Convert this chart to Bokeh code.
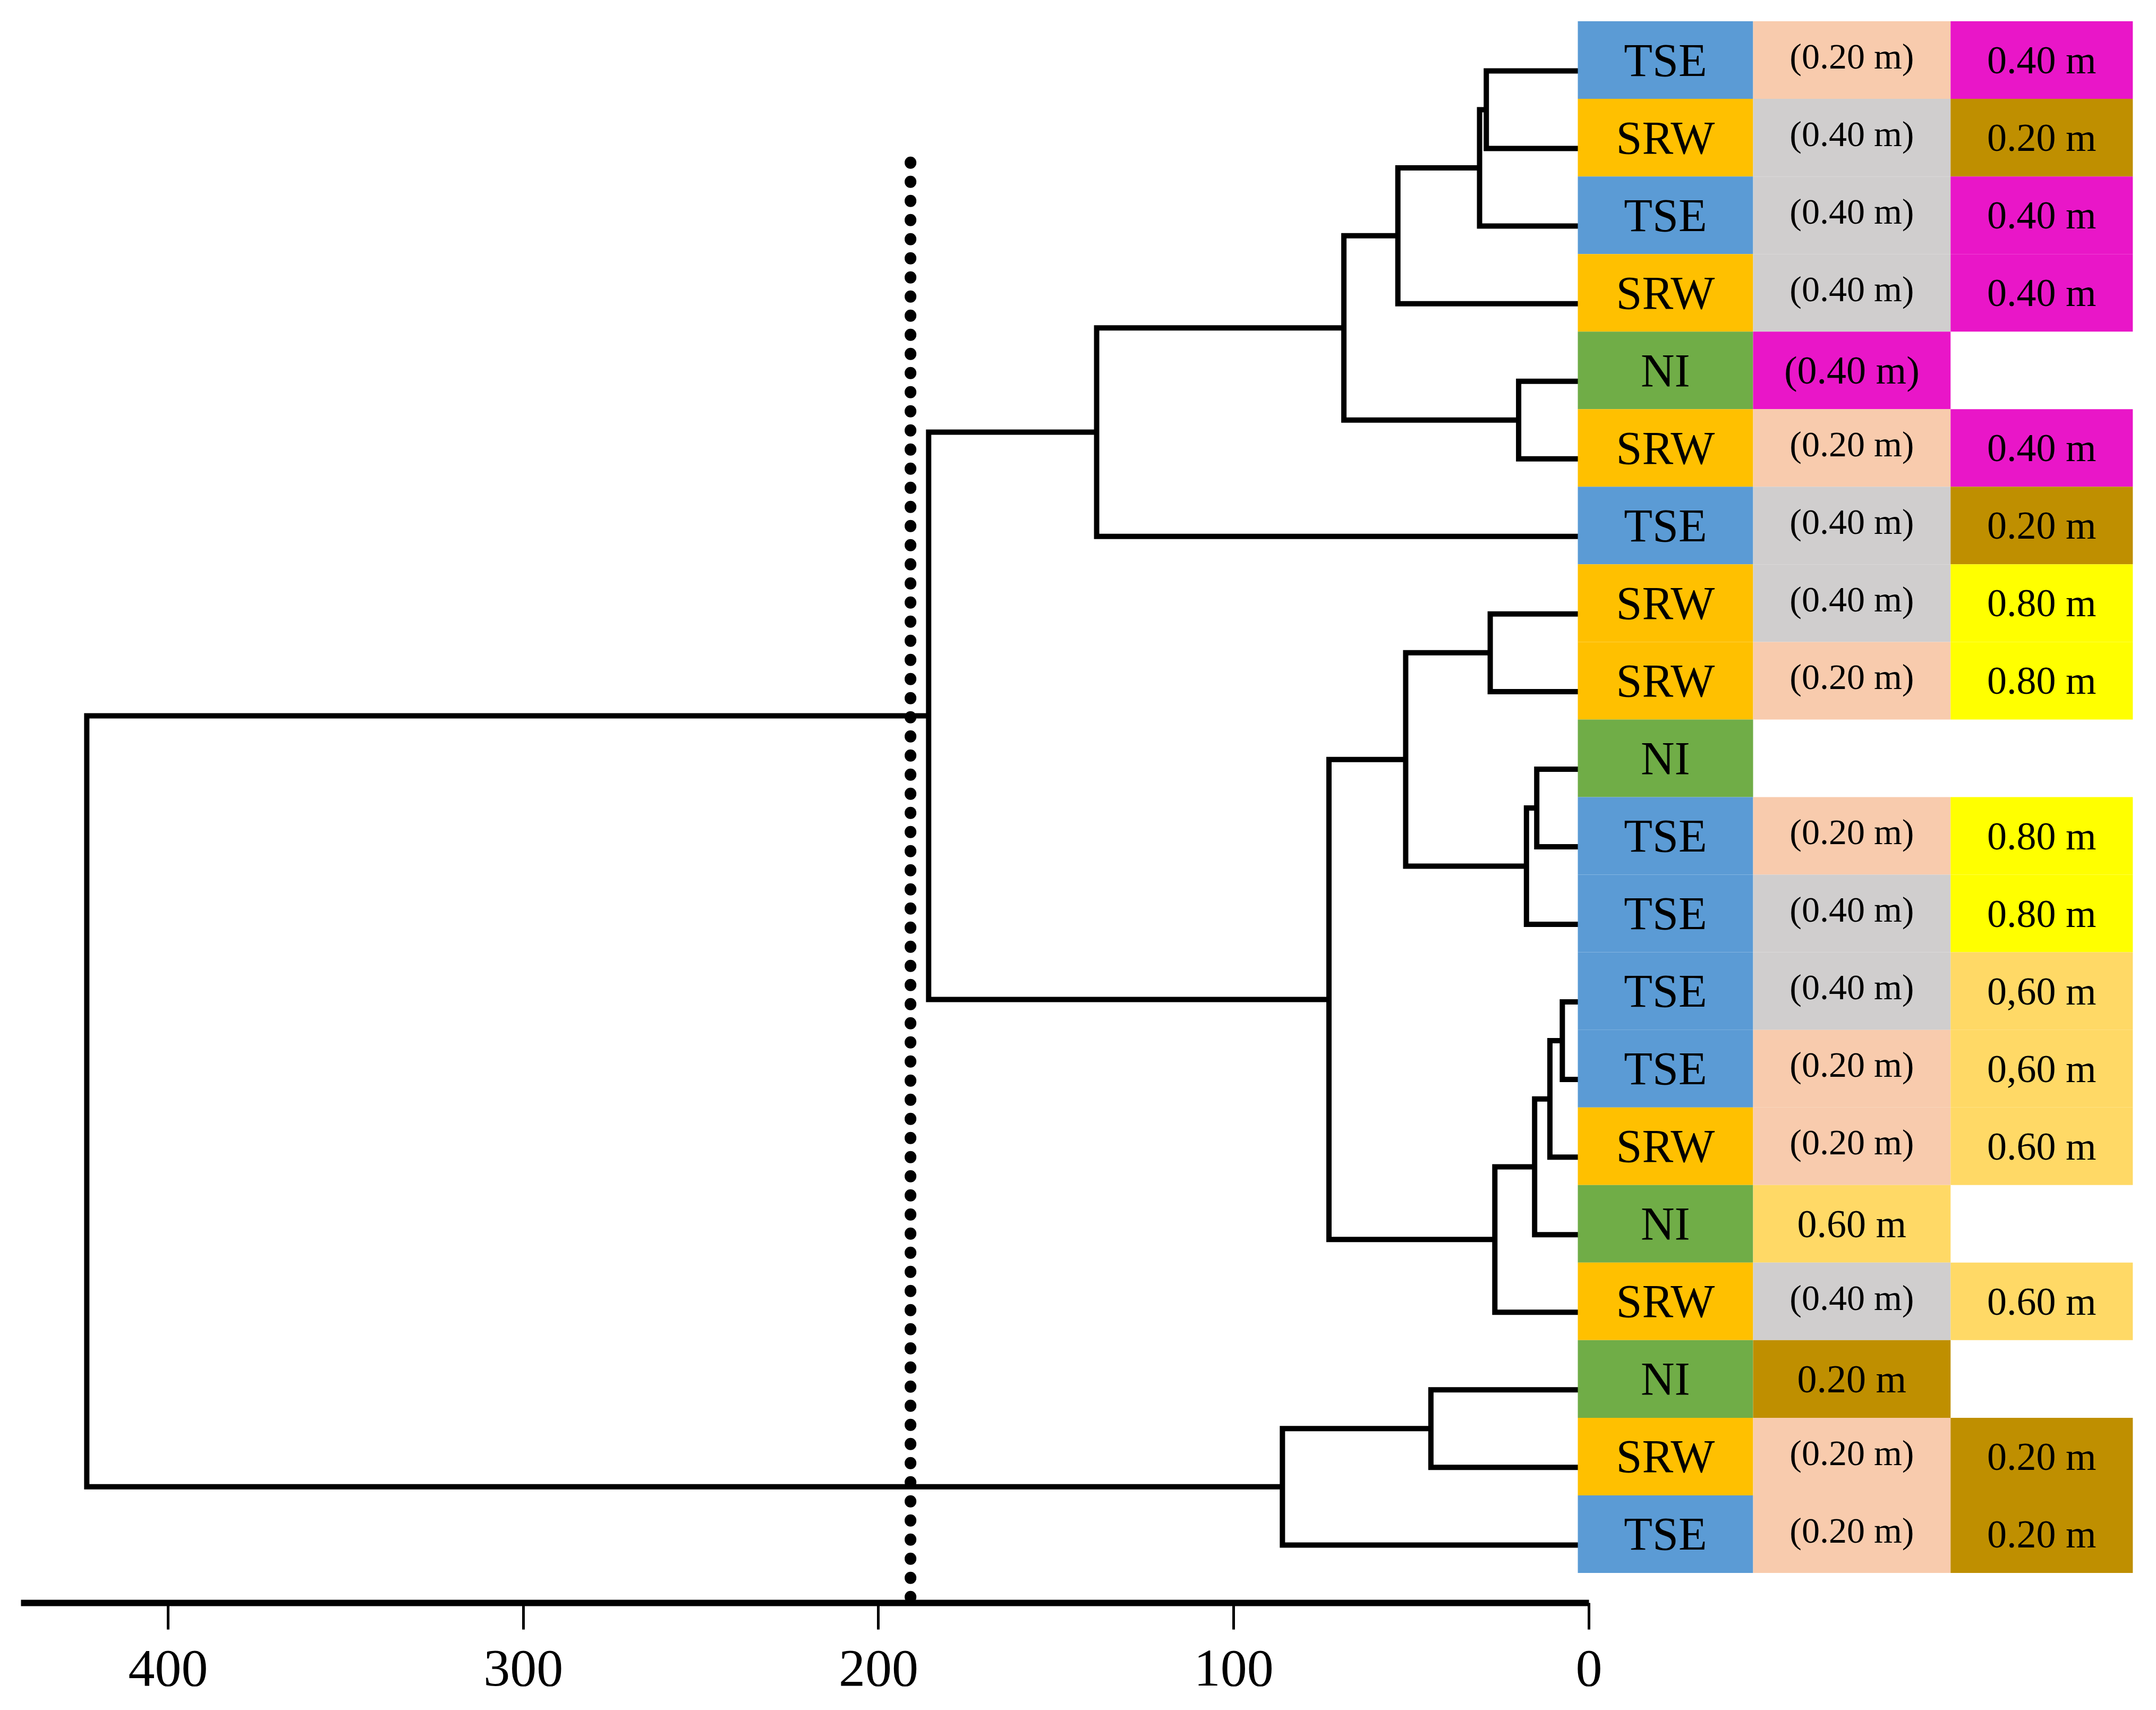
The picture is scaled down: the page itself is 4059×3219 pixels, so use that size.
from bokeh.plotting import figure
from bokeh.models import Range1d, FixedTicker
from bokeh.embed import file_html
from bokeh.resources import INLINE
from bokeh.core.properties import value

# ---------------- data ----------------
groups = ["TSE", "SRW", "TSE", "SRW", "NI", "SRW", "TSE", "SRW", "SRW", "NI",
          "TSE", "TSE", "TSE", "TSE", "SRW", "NI", "SRW", "NI", "SRW", "TSE"]
first_depth = ["(0.20 m)", "(0.40 m)", "(0.40 m)", "(0.40 m)", "(0.40 m)", "(0.20 m)",
               "(0.40 m)", "(0.40 m)", "(0.20 m)", "", "(0.20 m)", "(0.40 m)",
               "(0.40 m)", "(0.20 m)", "(0.20 m)", "0.60 m", "(0.40 m)", "0.20 m",
               "(0.20 m)", "(0.20 m)"]
second_depth = ["0.40 m", "0.20 m", "0.40 m", "0.40 m", "", "0.40 m", "0.20 m",
                "0.80 m", "0.80 m", "", "0.80 m", "0.80 m", "0,60 m", "0,60 m",
                "0.60 m", "", "0.60 m", "", "0.20 m", "0.20 m"]
# linkage: node ids 0..19 are leaves (top to bottom), merges create ids 20..38
merge_left = [0, 20, 21, 4, 22, 24, 7, 9, 27, 26, 12, 30, 31, 32, 29, 25, 17, 36, 35]
merge_right = [1, 2, 3, 5, 23, 6, 8, 10, 11, 28, 13, 14, 15, 16, 33, 34, 18, 19, 37]
merge_height = [28.9, 30.8, 53.8, 19.8, 69.0, 138.6, 27.8, 14.7, 17.6, 51.6,
                7.5, 11.0, 15.3, 26.5, 73.2, 185.9, 44.5, 86.3, 422.9]
cut_height = 191
x_ticks = [0, 100, 200, 300, 400]

# ---------------- styles ----------------
group_colors = {"TSE": "#5B9BD5", "SRW": "#FFC000", "NI": "#70AD47"}
paren_colors = {"0.20": "#F8CBAD", "0.40": "#D0CECE"}
depth_colors = {"0.20": "#BF8F00", "0.40": "#E916C8", "0.60": "#FFD966", "0.80": "#FFFF00"}
FONT = value("Liberation Serif")


def key(lbl):
    return lbl.strip("() m").replace(",", ".")


n = len(groups)
p = figure(width=4040, height=3219,
           x_range=Range1d(447.25, -156.86), y_range=Range1d(19.747, -0.9107),
           output_backend="svg", toolbar_location=None,
           min_border_left=0, min_border_right=0, min_border_top=0,
           min_border_bottom=202, y_axis_location=None)
p.xgrid.visible = False
p.ygrid.visible = False
p.outline_line_color = None
p.background_fill_color = "white"
p.border_fill_color = "white"

# ---------------- dendrogram ----------------
node_h = [0.0] * n
node_y = [float(i) for i in range(n)]
xs, ys = [], []
for l, r, h in zip(merge_left, merge_right, merge_height):
    xs.append([node_h[l], h, h, node_h[r]])
    ys.append([node_y[l], node_y[l], node_y[r], node_y[r]])
    node_h.append(h)
    node_y.append((node_y[l] + node_y[r]) / 2)
p.multi_line(xs=xs, ys=ys, line_color="black", line_width=10,
             line_join="miter", line_cap="butt")

# cut line (dotted)
p.line(x=[cut_height, cut_height], y=[1.18, 19.747], line_color="black",
       line_width=22, line_dash="1 35", line_cap="round")

# ---------------- label boxes ----------------
off = -0.14
col1 = (3.14, -46.2)
col2 = (-46.2, -101.8)
col3 = (-101.8, -153.1)

rows = list(range(n))
top = [i + off - 0.5 for i in rows]
bot = [i + off + 0.5 for i in rows]
ctr = [i + off for i in rows]

p.quad(left=col1[0], right=col1[1], top=top, bottom=bot,
       fill_color=[group_colors[g] for g in groups], line_color=None)
p.text(x=[(col1[0] + col1[1]) / 2] * n, y=ctr, text=groups, text_font=FONT,
       text_font_size="88px", text_align="center", text_baseline="middle",
       text_color="black")

c2 = [i for i in rows if first_depth[i]]
c2_col = []
for i in c2:
    if first_depth[i].startswith("(") and groups[i] != "NI":
        c2_col.append(paren_colors[key(first_depth[i])])
    else:
        c2_col.append(depth_colors[key(first_depth[i])])
p.quad(left=col2[0], right=col2[1], top=[top[i] for i in c2], bottom=[bot[i] for i in c2],
       fill_color=c2_col, line_color=None)
small = [i for i in c2 if first_depth[i].startswith("(") and groups[i] != "NI"]
big = [i for i in c2 if i not in small]
p.text(x=[(col2[0] + col2[1]) / 2] * len(small), y=[ctr[i] - 0.05 for i in small],
       text=[first_depth[i] for i in small], text_font=FONT, text_font_size="68px",
       text_align="center", text_baseline="middle", text_color="black")
p.text(x=[(col2[0] + col2[1]) / 2] * len(big), y=[ctr[i] for i in big],
       text=[first_depth[i] for i in big], text_font=FONT, text_font_size="74px",
       text_align="center", text_baseline="middle", text_color="black")

c3 = [i for i in rows if second_depth[i]]
p.quad(left=col3[0], right=col3[1], top=[top[i] for i in c3], bottom=[bot[i] for i in c3],
       fill_color=[depth_colors[key(second_depth[i])] for i in c3], line_color=None)
p.text(x=[(col3[0] + col3[1]) / 2] * len(c3), y=[ctr[i] for i in c3],
       text=[second_depth[i] for i in c3], text_font=FONT, text_font_size="74px",
       text_align="center", text_baseline="middle", text_color="black")

# ---------------- axis ----------------
ax = p.xaxis[0]
ax.ticker = FixedTicker(ticks=x_ticks)
ax.bounds = (0, 441.4)
ax.axis_line_width = 12
ax.axis_line_color = "black"
ax.major_tick_line_width = 5
ax.major_tick_line_color = "black"
ax.major_tick_in = 0
ax.major_tick_out = 50
ax.minor_tick_in = 0
ax.minor_tick_out = 0
ax.major_label_text_font = "Liberation Serif"
ax.major_label_text_font_size = "100px"
ax.major_label_text_color = "black"
ax.major_label_standoff = 40

open("out.html", "w").write(file_html(p, INLINE))
